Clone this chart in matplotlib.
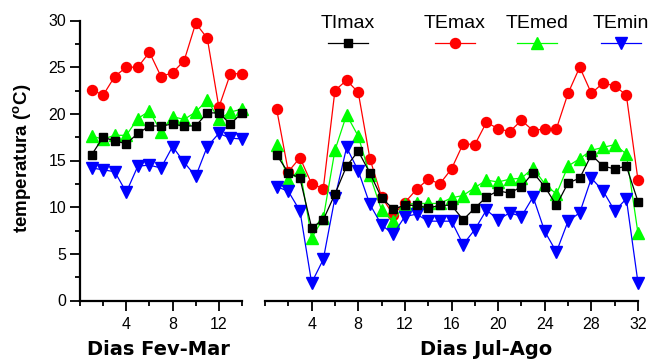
import matplotlib
matplotlib.use('Agg')
import matplotlib.pyplot as plt
from matplotlib.lines import Line2D
from matplotlib.ticker import MultipleLocator

plt.rcParams['font.family'] = ['Liberation Sans', 'DejaVu Sans']
plt.rcParams['mathtext.fontset'] = 'custom'
plt.rcParams['mathtext.bf'] = 'Liberation Sans:bold'
plt.rcParams['mathtext.rm'] = 'Liberation Sans:bold'

# Fev-Mar period
dias_fm = [1, 2, 3, 4, 5, 6, 7, 8, 9, 10, 11, 12, 13, 14]
timax_fm = [15.6, 17.5, 17.1, 16.8, 17.9, 18.7, 18.7, 18.9, 18.7, 18.7, 20.1, 20.1, 18.9, 20.1]
temax_fm = [22.6, 22.0, 24.0, 25.0, 25.0, 26.6, 24.0, 24.4, 25.7, 29.7, 28.1, 20.7, 24.3, 24.3]
temed_fm = [17.6, 17.3, 17.7, 17.7, 19.5, 20.3, 18.1, 19.7, 19.4, 20.2, 21.5, 19.4, 20.2, 20.5]
temin_fm = [14.2, 14.0, 13.8, 11.6, 14.4, 14.5, 14.2, 16.5, 14.8, 13.3, 16.5, 17.9, 17.4, 17.3]

# Jul-Ago period
dias_ja = [1, 2, 3, 4, 5, 6, 7, 8, 9, 10, 11, 12, 13, 14, 15, 16,
           17, 18, 19, 20, 21, 22, 23, 24, 25, 26, 27, 28, 29, 30, 31, 32]
timax_ja = [15.6, 13.7, 13.1, 7.8, 8.65, 11.4, 14.4, 16.0, 13.65, 11.0, 9.8, 10.2, 10.2, 9.9, 10.2, 10.2,
            8.65, 9.9, 11.1, 11.75, 11.5, 12.2, 13.7, 12.2, 10.2, 12.6, 13.1, 15.6, 14.4, 14.1, 14.4, 10.6]
temax_ja = [20.5, 13.8, 15.3, 12.5, 12.0, 22.5, 23.6, 22.3, 15.2, 11.1, 9.2, 10.5, 11.9, 13.0, 12.5, 14.1,
            16.8, 16.7, 19.1, 18.4, 18.1, 19.3, 18.2, 18.4, 18.4, 22.2, 25.0, 22.2, 23.3, 23.0, 22.0, 12.9]
temed_ja = [16.7, 12.9, 14.0, 6.7, 8.8, 16.1, 19.9, 17.6, 13.4, 9.7, 8.5, 10.3, 10.4, 10.4, 10.4, 11.0,
            11.25, 12.1, 12.9, 12.7, 13.0, 13.1, 14.2, 12.5, 11.4, 14.4, 15.2, 16.1, 16.4, 16.7, 15.7, 7.2]
temin_ja = [12.2, 11.7, 9.6, 1.9, 4.4, 11.0, 16.4, 13.9, 10.3, 8.1, 7.1, 9.0, 9.25, 8.5, 8.5, 8.5,
            6.0, 7.6, 9.7, 8.65, 9.4, 9.0, 11.1, 7.4, 5.2, 8.5, 9.4, 13.1, 11.75, 9.6, 10.9, 1.9]

# name, colour, marker, size, zorder
series = [('TImax', 'black', 's', 6.3, 6),
          ('TEmax', '#ff0000', 'o', 7.2, 3),
          ('TEmed', '#00ff00', '^', 8.2, 4),
          ('TEmin', '#0000ff', 'v', 8.2, 5)]

fig = plt.figure(figsize=(6.5, 3.6), dpi=100)
W, H = 650.0, 360.0
ax1 = fig.add_axes([80 / W, 59.5 / H, 162 / W, 280 / H])
ax2 = fig.add_axes([265 / W, 59.5 / H, 373 / W, 280 / H])

data = [(ax1, dias_fm, [timax_fm, temax_fm, temed_fm, temin_fm]),
        (ax2, dias_ja, [timax_ja, temax_ja, temed_ja, temin_ja])]

for ax, dias, vals in data:
    for (name, col, mk, ms, z), v in zip(series, vals):
        ax.plot(dias, v, color=col, lw=0.9, marker=mk, ms=ms, mfc=col, mec=col,
                clip_on=False, zorder=z)
    ax.set_ylim(0, 30)
    for s in ['top', 'right']:
        ax.spines[s].set_visible(False)
    ax.spines['bottom'].set_linewidth(1.6)
    ax.spines['left'].set_linewidth(1.6)
    ax.yaxis.set_major_locator(MultipleLocator(5))
    ax.yaxis.set_minor_locator(MultipleLocator(2.5))
    ax.tick_params(which='major', length=7, width=1.3, labelsize=11.5, pad=5, colors='black')
    ax.tick_params(which='minor', length=3.6, width=1.3)
    ax.set_facecolor('none')

ax1.set_xlim(0, 14)
ax1.set_xticks([4, 8, 12])
ax1.set_xticks([0, 2, 6, 10, 14], minor=True)
ax1.tick_params(axis='y', pad=3)

ax2.set_xlim(0, 32)
ax2.set_xticks([4, 8, 12, 16, 20, 24, 28, 32])
ax2.set_xticks([0, 2, 6, 10, 14, 18, 22, 26, 30], minor=True)
ax2.spines['left'].set_visible(False)
ax2.tick_params(axis='y', which='both', left=False, labelleft=False)

# axis titles
fig.text(158 / W, 1 - 355 / H, 'Dias Fev-Mar', ha='center', va='baseline',
         fontsize=14, fontweight='bold', family='DejaVu Sans')
fig.text(486.5 / W, 1 - 355 / H, 'Dias Jul-Ago', ha='center', va='baseline',
         fontsize=14, fontweight='bold', family='DejaVu Sans')
fig.text(22 / W, 1 - 158 / H, r'temperatura ($\mathbf{^{o}}$C)', rotation=90,
         ha='center', va='center', fontsize=13.5, fontweight='bold')

# legend: label above a short line with marker
leg_x = [348, 455, 536.7, 621]
for (name, col, mk, ms, z), cx in zip(series, leg_x):
    fig.text(cx / W, 1 - 28.5 / H, name, ha='center', va='baseline', fontsize=14)
    ln = Line2D([(cx - 20) / W, cx / W, (cx + 20) / W], [1 - 42.7 / H] * 3,
                transform=fig.transFigure, color=col, lw=0.9, marker=mk, ms=ms,
                mfc=col, mec=col, markevery=[1])
    fig.add_artist(ln)

fig.savefig('out.png', dpi=100)
